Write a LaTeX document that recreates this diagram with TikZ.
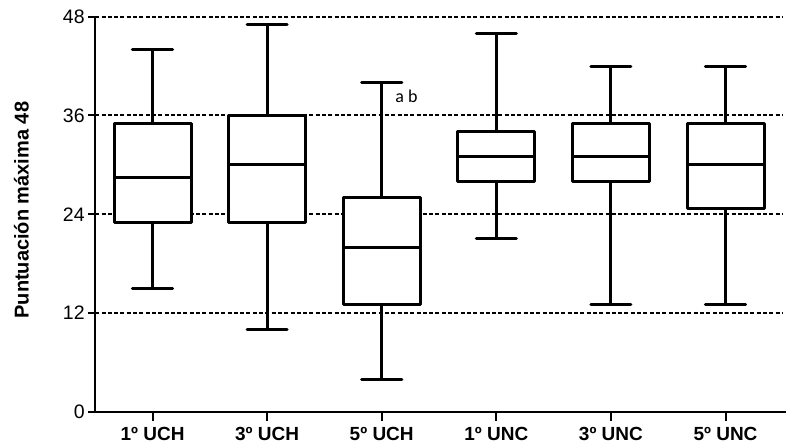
\documentclass[tikz,border=0pt]{standalone}
\usepackage{fontspec}
\setmainfont{Liberation Sans}
\newfontfamily\notefont{Carlito}
\begin{document}
\begin{tikzpicture}[x=57.3pt,y=4.118pt,
  boxline/.style={line width=1.5pt,line join=round},
  capline/.style={line width=1.5pt,line cap=round},
  gridline/.style={line width=1pt,dash pattern=on 2pt off 1.15pt},
  axisline/.style={line width=1pt}]
\useasboundingbox (-0.831,-4.007) rectangle (6.054,50.02);

\foreach \v in {12,24,36,48} {
        \draw[gridline] (0,\v) -- (6,\v);
 }

\foreach \x/\lo/\qa/\md/\qb/\hi/\lab in {0.5/15/23/28.5/35/44/1º UCH,1.5/10/23/30/36/47/3º UCH,2.5/4/13/20/26/40/5º UCH,3.5/21/28/31/34/46/1º UNC,4.5/13/28/31/35/42/3º UNC,5.5/13/24.7/30/35/42/5º UNC} {
        \draw[boxline] (\x,\lo) -- (\x,\hi);
        \draw[capline] (\x-0.175,\lo) -- (\x+0.175,\lo);
        \draw[capline] (\x-0.175,\hi) -- (\x+0.175,\hi);
        \draw[boxline,fill=white] (\x-0.336,\qa) rectangle (\x+0.336,\qb);
        \draw[boxline] (\x-0.336,\md) -- (\x+0.336,\md);
        \draw[axisline] (\x,0) -- (\x,-1.1);
        \node[anchor=base,font=\bfseries\fontsize{9.5}{11}\selectfont] (lab\x) at (\x,-3.52) {\lab};
 }

\draw[axisline] (0,48) -- (0,0) -- (6.03,0);
\foreach \v in {0,12,24,36,48} {
        \draw[axisline] (-0.063,\v) -- (0,\v);
        \node[anchor=east,inner sep=0pt,font=\fontsize{9.75}{11}\selectfont] (tick\v) at (-0.089,\v) {\v};
 }

\node[rotate=90,anchor=base,font=\bfseries\fontsize{10}{12}\selectfont] (ylabel) at (-0.582,24.5) {Puntuación máxima 48};
\node[anchor=base west,inner sep=0pt,font=\notefont\fontsize{9}{11}\selectfont] (note) at (2.616,37.56) {a b};
\end{tikzpicture}
\end{document}
